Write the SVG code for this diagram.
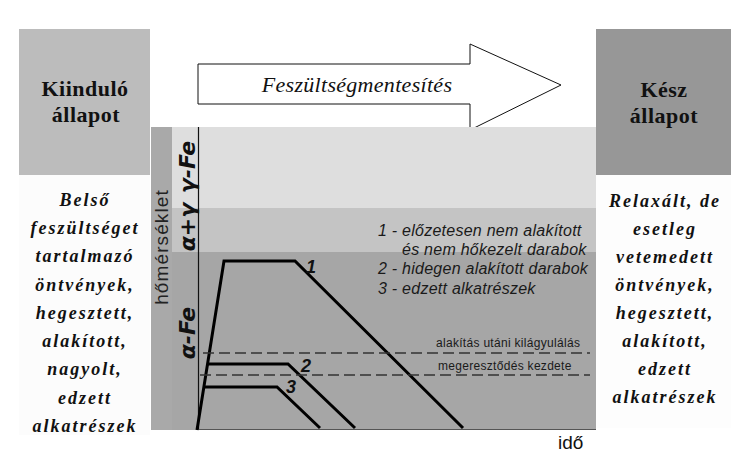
<svg xmlns="http://www.w3.org/2000/svg" width="756" height="470" viewBox="0 0 756 470">
<style>
.hdr{font-family:"Liberation Serif","Times New Roman",Tinos,"DejaVu Serif",serif;font-weight:bold;font-size:22px;fill:#111;text-anchor:middle;letter-spacing:0.5px}
.desc{font-family:"Liberation Serif","Times New Roman",Tinos,"DejaVu Serif",serif;font-weight:bold;font-style:italic;font-size:18px;fill:#111;text-anchor:middle;letter-spacing:2px}
.arr{font-family:"Liberation Serif","Times New Roman",Tinos,"DejaVu Serif",serif;font-style:italic;font-size:22px;fill:#111;text-anchor:middle;letter-spacing:0.3px}
.leg{font-family:"Liberation Sans",Arial,sans-serif;font-style:italic;font-size:16px;fill:#1a1a1a;letter-spacing:0.25px}
.dl{font-family:"Liberation Sans",Arial,sans-serif;font-size:12px;fill:#1a1a1a;letter-spacing:0.3px}
.num{font-family:"Liberation Sans",Arial,sans-serif;font-style:italic;font-weight:bold;font-size:18px;fill:#111}
.ph{font-family:"DejaVu Sans","Liberation Sans",sans-serif;font-weight:bold;font-style:italic;font-size:22px;fill:#111;text-anchor:middle}
.ax{font-family:"Liberation Sans",Arial,sans-serif;font-size:19px;fill:#222;text-anchor:middle;letter-spacing:1.1px}
.curve{fill:none;stroke:#000;stroke-width:3;stroke-linejoin:miter}
.dash{stroke:#333;stroke-width:1.5;stroke-dasharray:11 5;fill:none}
</style>
<rect width="756" height="470" fill="#ffffff"/>
<g id="start-state">
<rect x="19" y="29" width="131" height="146" fill="#bcbcbc"/>
<text class="hdr" x="85" y="96">Kiinduló</text>
<text class="hdr" x="86" y="122">állapot</text>
<rect x="19" y="175" width="131" height="260" fill="#fcfcfc"/>
<text class="desc" x="85" y="206">Belső</text>
<text class="desc" x="85" y="234">feszültséget</text>
<text class="desc" x="85" y="262">tartalmazó</text>
<text class="desc" x="85" y="291">öntvények,</text>
<text class="desc" x="85" y="319">hegesztett,</text>
<text class="desc" x="85" y="347">alakított,</text>
<text class="desc" x="85" y="375">nagyolt,</text>
<text class="desc" x="85" y="404">edzett</text>
<text class="desc" x="85" y="432">alkatrészek</text>
</g>
<g id="end-state">
<rect x="596" y="29" width="135" height="146" fill="#979797"/>
<text class="hdr" x="664" y="97">Kész</text>
<text class="hdr" x="664" y="123">állapot</text>
<rect x="596" y="175" width="135" height="253" fill="#fdfdfd"/>
<text class="desc" x="665" y="207">Relaxált, de</text>
<text class="desc" x="665" y="235">esetleg</text>
<text class="desc" x="665" y="263">vetemedett</text>
<text class="desc" x="665" y="291">öntvények,</text>
<text class="desc" x="665" y="319">hegesztett,</text>
<text class="desc" x="665" y="347">alakított,</text>
<text class="desc" x="665" y="375">edzett</text>
<text class="desc" x="665" y="403">alkatrészek</text>
</g>
<g id="process-arrow">
<polygon points="198,64 470,64 470,44 561,85 470,130 470,104 198,104" fill="#ffffff" stroke="#111" stroke-width="1"/>
<text class="arr" x="357" y="92">Feszültségmentesítés</text>
</g>
<g id="chart">
<rect x="151" y="127" width="445" height="303" fill="#a6a6a6"/>
<rect x="172" y="127" width="424" height="81" fill="#dedede"/>
<rect x="172" y="208" width="424" height="44" fill="#c4c4c4"/>
<rect x="151" y="127" width="21" height="303" fill="#a9a9a9"/>
<text class="ax" transform="translate(168,247) rotate(-90)">hőmérséklet</text>
<text class="ph" transform="translate(195,167) rotate(-90)">γ-Fe</text>
<text class="ph" transform="translate(195,227) rotate(-90)">α+γ</text>
<text class="ph" transform="translate(195,333) rotate(-90)">α-Fe</text>
<line x1="198.5" y1="127" x2="198.5" y2="430" stroke="#111" stroke-width="1.2"/>
<line x1="198" y1="429.5" x2="596" y2="429.5" stroke="#555" stroke-width="1"/>
<text x="558" y="449" font-family="Liberation Sans, Arial, sans-serif" font-size="19" fill="#111">idő</text>
</g>
<g id="legend">
<text class="leg" x="378" y="236">1 - előzetesen nem alakított</text>
<text class="leg" x="402" y="255">és nem hőkezelt darabok</text>
<text class="leg" x="378" y="274">2 - hidegen alakított darabok</text>
<text class="leg" x="378" y="294">3 - edzett alkatrészek</text>
</g>
<g id="connectors">
<polyline class="curve" points="197,430 224,261 295,261 463,428"/>
<polyline class="curve" points="207,364 288,364 355,428"/>
<polyline class="curve" points="204,387 277,387 320,428"/>
<line class="dash" x1="203" y1="353" x2="590" y2="353"/>
<line class="dash" x1="200" y1="375" x2="590" y2="375"/>
</g>
<g id="labels">
<text class="num" x="306" y="273">1</text>
<text class="num" x="301" y="372">2</text>
<text class="num" x="286" y="393">3</text>
<text class="dl" x="436" y="347">alakítás utáni kilágyulálás</text>
<text class="dl" x="438" y="370">megeresztődés kezdete</text>
</g>
</svg>
